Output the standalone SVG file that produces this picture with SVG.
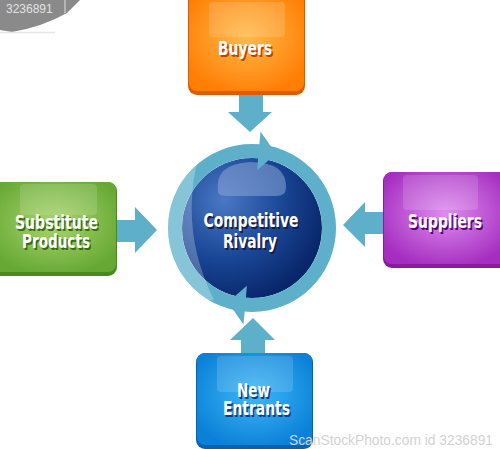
<svg xmlns="http://www.w3.org/2000/svg" width="500" height="449" viewBox="0 0 500 449">
<defs>
<style>
.lbl{font-family:"DejaVu Sans Condensed","DejaVu Sans","Liberation Sans",sans-serif;font-weight:bold;font-size:19px;text-anchor:middle}
.w{fill:#ffffff}
.arr{fill:#5eb0ca}
.hl{fill:#ffffff;fill-opacity:0.14}
.wm{font-family:"Liberation Sans",Arial,sans-serif;font-size:14px;fill:#d2d2d2}
</style>
<radialGradient id="gO" cx="50%" cy="45%" r="60%"><stop offset="0" stop-color="#ffba4a"/><stop offset="1" stop-color="#ff7e05"/></radialGradient>
<radialGradient id="gG" cx="50%" cy="45%" r="60%"><stop offset="0" stop-color="#a9d56e"/><stop offset="1" stop-color="#66a833"/></radialGradient>
<radialGradient id="gP" cx="50%" cy="45%" r="60%"><stop offset="0" stop-color="#de8cef"/><stop offset="1" stop-color="#a52ec0"/></radialGradient>
<radialGradient id="gB" cx="50%" cy="45%" r="60%"><stop offset="0" stop-color="#3fb8f6"/><stop offset="1" stop-color="#0b80d8"/></radialGradient>
<radialGradient id="gC" cx="30%" cy="30%" r="75%"><stop offset="0" stop-color="#4a78c4"/><stop offset="0.55" stop-color="#1a4796"/><stop offset="1" stop-color="#08266a"/></radialGradient>
<clipPath id="cc"><circle cx="252" cy="228" r="84"/></clipPath>
</defs>

<g id="wm-top">
<path d="M0,0 H80 L67,13 Q42,27 12,32 L0,30 Z" fill="#8a8a8a"/>
<line x1="65" y1="0" x2="65" y2="13" stroke="#e0e0e0" stroke-width="1"/>
<line x1="0" y1="32.5" x2="55" y2="32.5" stroke="#e6e6e6" stroke-width="1.5"/>
<text x="6" y="13" font-family="Liberation Sans,Arial,sans-serif" font-size="12" fill="#e2e2e2">3236891</text>
</g>

<g id="connectors">
<polygon class="arr" points="239,95 263,95 263,112 272,112 250,132 228,112 239,112"/>
<polygon class="arr" points="117,220 135,220 135,207 157,230 135,253 135,242 117,242"/>
<polygon class="arr" points="383,212 365,212 365,202 343,225 365,247 365,234 383,234"/>
<polygon class="arr" points="241,354 241,340 230,340 253,318 275,340 265,340 265,354"/>
</g>

<g id="center">
<circle cx="252" cy="228" r="70" fill="url(#gC)"/>
<path d="M218,192 Q214,164 250,162 Q287,162 286,188 Q286,196 276,196 L228,196 Q218,196 218,192 Z" fill="#8aa5d6" fill-opacity="0.55"/>
<circle cx="252" cy="228" r="77" fill="none" stroke="#5eb0ca" stroke-width="14"/>
<polygon points="260.5,131.4 276.1,153.8 257.1,170.2" fill="#5eb0ca"/>
<polygon points="243.5,324.6 227.9,302.2 246.9,285.8" fill="#5eb0ca"/>
<path d="M200,150 Q178,228 214,300 L160,300 L160,150 Z" fill="#ffffff" fill-opacity="0.25" clip-path="url(#cc)"/>
<text class="lbl" x="252.5" y="228.5" fill="#1a1a40" textLength="95" lengthAdjust="spacingAndGlyphs">Competitive</text>
<text class="lbl w" x="251" y="227" textLength="95" lengthAdjust="spacingAndGlyphs">Competitive</text>
<text class="lbl" x="251.5" y="249.5" fill="#1a1a40" textLength="54" lengthAdjust="spacingAndGlyphs">Rivalry</text>
<text class="lbl w" x="250" y="248" textLength="54" lengthAdjust="spacingAndGlyphs">Rivalry</text>
</g>

<g id="buyers">
<rect x="188" y="-8" width="117" height="103" rx="9" fill="#e05a00"/>
<rect x="189" y="-8" width="115" height="99" rx="8" fill="url(#gO)"/>
<rect x="209" y="2" width="76" height="35" rx="4" class="hl"/>
<text class="lbl" x="246.5" y="56.5" fill="#c04000" textLength="54" lengthAdjust="spacingAndGlyphs">Buyers</text>
<text class="lbl w" x="245" y="55" textLength="54" lengthAdjust="spacingAndGlyphs">Buyers</text>
</g>

<g id="substitute">
<rect x="-8" y="182" width="125" height="94" rx="9" fill="#4a8a1c"/>
<rect x="-8" y="182" width="124" height="90" rx="8" fill="url(#gG)"/>
<rect x="20" y="184" width="77" height="31" rx="4" class="hl"/>
<text class="lbl" x="58" y="230.5" fill="#3a6a10" textLength="83" lengthAdjust="spacingAndGlyphs">Substitute</text>
<text class="lbl w" x="56.5" y="229" textLength="83" lengthAdjust="spacingAndGlyphs">Substitute</text>
<text class="lbl" x="57.5" y="249.5" fill="#3a6a10" textLength="68" lengthAdjust="spacingAndGlyphs">Products</text>
<text class="lbl w" x="56" y="248" textLength="68" lengthAdjust="spacingAndGlyphs">Products</text>
</g>

<g id="suppliers">
<rect x="383" y="172" width="125" height="96" rx="9" fill="#8a1aa0"/>
<rect x="384" y="172" width="123" height="92" rx="8" fill="url(#gP)"/>
<rect x="403" y="175" width="75" height="35" rx="4" class="hl"/>
<text class="lbl" x="446.5" y="229.5" fill="#5a0070" textLength="74" lengthAdjust="spacingAndGlyphs">Suppliers</text>
<text class="lbl w" x="445" y="228" textLength="74" lengthAdjust="spacingAndGlyphs">Suppliers</text>
</g>

<g id="new-entrants">
<rect x="196" y="353" width="117" height="96" rx="9" fill="#0563b0"/>
<rect x="197" y="353" width="115" height="92" rx="8" fill="url(#gB)"/>
<rect x="217" y="356" width="76" height="36" rx="4" class="hl"/>
<text class="lbl" x="255" y="398.5" fill="#0a4080" textLength="33" lengthAdjust="spacingAndGlyphs">New</text>
<text class="lbl w" x="253.5" y="397" textLength="33" lengthAdjust="spacingAndGlyphs">New</text>
<text class="lbl" x="258" y="416.5" fill="#0a4080" textLength="67" lengthAdjust="spacingAndGlyphs">Entrants</text>
<text class="lbl w" x="256.5" y="415" textLength="67" lengthAdjust="spacingAndGlyphs">Entrants</text>
</g>

<text class="wm" x="289" y="445" textLength="204" lengthAdjust="spacingAndGlyphs">ScanStockPhoto.com id 3236891</text>
</svg>
